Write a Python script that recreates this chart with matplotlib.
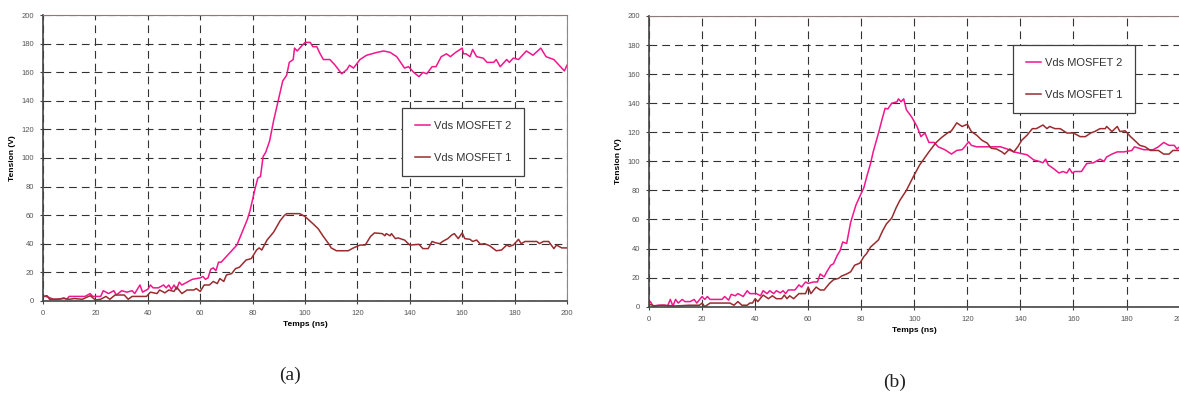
import numpy as np
import matplotlib
matplotlib.use("Agg")
import matplotlib.pyplot as plt

# ---- data (t in ns, v in V) ----
# panel (a)
a2_t = [0, 1, 2, 4, 6, 8, 9, 10, 15, 16,
        18, 19, 20, 22, 23, 25, 27, 28, 30, 32,
        34, 35, 37, 38, 40, 41, 42, 44, 46, 47,
        48, 49, 50, 51, 52, 53, 55, 57, 60, 61,
        62, 63, 64, 65, 66, 67, 68, 70, 72, 74,
        76, 78, 79, 80, 81, 82, 83, 84, 85, 86.5,
        88, 90, 91.5, 93, 94, 95.5, 96, 97, 98, 100,
        102, 103, 104.5, 105.5, 107, 109.5, 111.5, 114, 116, 117,
        118.5, 121, 123.5, 127.5, 130, 132.5, 135, 136.5, 138, 139.5,
        141.5, 143.5, 145, 146.5, 148.5, 150, 152, 154, 155.5, 157.5,
        160, 160.5, 161.5, 163, 164, 165.5, 168, 169.5, 172, 173,
        174.5, 177, 178, 179.5, 181.5, 184.5, 187, 190, 192, 195,
        197.5, 199, 200]
a2_v = [3, 3, 2.5, 1, 1, 2, 1, 3, 3, 3,
        5, 3, 3, 3, 7, 5, 7, 4, 7, 6,
        7, 5, 11, 6, 8, 11, 9, 9, 11, 9,
        11, 8, 11, 8, 13, 11, 13, 15, 16, 17,
        15, 16, 22, 23, 21, 27, 27, 31, 35, 39,
        48, 57, 63, 71, 79, 86, 87, 101, 104, 112,
        126, 142, 154, 158, 167, 169, 177, 175, 177, 181,
        181, 178, 178, 174, 169, 169, 165, 159, 162, 165,
        163, 169, 172, 174, 175, 174, 171, 167, 163, 164,
        160, 157, 160, 159, 164, 164, 171, 173, 171, 174,
        177, 173, 173, 171, 176, 171, 170, 167, 167, 169,
        164, 169, 167, 170, 169, 175, 172, 177, 171, 169,
        164, 161, 165]

a1_t = [0, 1.5, 2.5, 5, 8, 10, 12, 15, 18, 20,
        22, 24, 25.5, 27.5, 31, 32.5, 34, 39.5, 41, 43.5,
        44.5, 46.5, 48, 50, 51, 53, 55, 57.5, 58.5, 60,
        61.5, 63.5, 65, 66.5, 67.5, 69, 70, 72, 73.5, 75,
        77.5, 79.5, 81.5, 82.5, 83.5, 85.5, 88, 90.5, 92, 93,
        98, 100, 103, 105, 107, 109, 110, 112, 116.5, 118.5,
        121, 123, 125, 126.5, 129.5, 130.5, 131, 132.5, 133, 134.5,
        135.5, 138, 140, 143.5, 145, 147, 148.5, 150, 151.5, 152.5,
        154.5, 156, 157, 158.5, 160, 161, 163, 164, 165.5, 167,
        168.5, 170.5, 173, 175, 177, 178, 179.5, 181.5, 182.5, 184,
        188.5, 189.5, 191, 193, 195, 196, 198, 200]
a1_v = [3, 3.5, 1, 1, 1.5, 1, 1.5, 1, 3.5, 0.5,
        1, 3, 1, 4, 4, 1, 3, 3, 6, 5,
        7.5, 5.5, 7.5, 6.5, 9.5, 5, 7.5, 7.5, 8.5, 6.5,
        11, 11, 13.5, 12, 15.5, 13.5, 18, 19, 22.5, 23.5,
        28.5, 29.5, 35.5, 37, 35.5, 42.5, 48, 56, 59.5, 61,
        61, 59, 54, 50.5, 45, 40, 37, 35, 35, 37,
        39, 39, 45, 47.5, 47, 45.5, 47, 45.5, 47, 43.5,
        44, 42.5, 39, 39.5, 36.5, 36.5, 41.5, 40.5, 40, 41.5,
        43.5, 46, 47, 43.5, 47.5, 43.5, 43, 41.5, 42.5, 39.5,
        40, 38.5, 35, 35.5, 39, 38, 39, 43, 40, 41.5,
        41.5, 40, 41.5, 41.5, 36.5, 39, 37, 37]

# panel (b)
b2_t = [0, 0.5, 1.5, 3.5, 6, 7, 8, 9, 10, 11,
        12.5, 13.5, 15.5, 17, 18, 20, 21, 22, 23, 27.5,
        28.5, 30, 31, 32.5, 33.5, 35.5, 37, 38, 40.5, 42,
        43, 44.5, 45.5, 47, 48, 49.5, 50.5, 51.5, 52.5, 55,
        56.5, 57.5, 59, 60, 62, 63.5, 64.5, 66, 67, 68.5,
        69.5, 71, 72, 73, 74.5, 76, 76.5, 78, 79.5, 81,
        82, 83.5, 84.5, 86.5, 88, 89, 90, 91.5, 93.5, 94,
        95, 96, 97, 99, 101, 102.5, 104, 105.5, 107.5, 109,
        111.5, 114, 116, 118, 119, 120.5, 121.5, 123.5, 127.5, 132.5,
        135, 137.5, 140, 142.5, 145, 147, 148.5, 149.5, 150.5, 152.5,
        154.5, 156, 157.5, 158.5, 159.5, 160.5, 163, 165, 167.5, 170,
        171.5, 172.5, 174.5, 176.5, 179, 182, 183, 186.5, 190, 192,
        194, 196, 198, 199, 200]
b2_v = [2.5, 3.5, 0.5, 1, 1, 0.5, 5, 0.5, 5, 2.5,
        5, 3.5, 3.5, 5, 2.5, 7, 5, 7, 5, 5,
        7, 4.5, 8.5, 7.5, 9, 7, 11, 9, 9, 7.5,
        11, 9, 11, 9, 11, 9.5, 11, 9, 11.5, 11.5,
        15, 13.5, 17, 16, 17, 17, 22.5, 20.5, 24, 28.5,
        29.5, 35.5, 38.5, 44.5, 43.5, 58, 61, 70, 76, 82,
        89, 98.5, 106.5, 119.5, 130, 136.5, 136, 140, 141, 143,
        141, 143, 135.5, 130.5, 124, 117, 119.5, 113, 113, 110,
        108, 105, 107.5, 108, 110, 113.5, 111, 110, 110, 110,
        108.5, 106.5, 105.5, 104.5, 101, 100, 99, 101.5, 97.5, 95,
        92, 93, 92, 95, 92, 93, 93, 98.5, 99, 101.5,
        100, 103, 105, 106.5, 106.5, 107.5, 110, 108, 108, 110,
        113, 111, 111, 108.5, 110]

b1_t = [0, 0.5, 2, 5, 10, 15, 19, 20, 21, 23,
        30.5, 32, 33.5, 35, 37, 38, 39, 40, 41, 43,
        45, 46.5, 48, 50, 51, 52, 53, 54.5, 56.5, 59,
        60, 61, 63, 64.5, 66, 68, 69.5, 71.5, 72.5, 74.5,
        76, 77.5, 79.5, 81, 82, 83.5, 85, 86.5, 88, 89.5,
        91.5, 93, 94.5, 97, 99.5, 102, 105.5, 108, 110, 112.5,
        114, 116, 118, 120, 121.5, 123.5, 125.5, 127.5, 129, 131,
        133, 134, 136, 137.5, 139, 140.5, 142.5, 144.5, 146, 148.5,
        150, 151, 153, 155, 157.5, 160, 162.5, 164.5, 166.5, 168,
        170, 172, 172.5, 174.5, 176.5, 177.5, 179.5, 181.5, 183, 185,
        187, 189, 192, 194, 196, 197.5, 200]
b1_v = [1, 1.5, 0.5, 1, 0.5, 1, 1, 2.5, 0, 2.5,
        2.5, 1, 3.5, 1, 1, 2.5, 2.5, 5.5, 3.5, 8,
        5.5, 7.5, 5.5, 5.5, 8, 5.5, 7.5, 5.5, 9, 9,
        13.5, 9, 13.5, 11.5, 11.5, 16, 18.5, 19.5, 21, 22.5,
        24, 28.5, 30, 34.5, 36.5, 41, 43.5, 46, 52, 57,
        61, 67.5, 73, 80, 89, 97.5, 106.5, 112.5, 116, 119.5,
        121, 126.5, 124, 125.5, 120.5, 118, 114.5, 112.5, 109, 108.5,
        106.5, 105, 108.5, 106.5, 110, 114.5, 118, 122.5, 122.5, 125,
        122.5, 124, 122.5, 122.5, 119.5, 119.5, 117, 117, 119.5, 120.5,
        122.5, 122.5, 124, 120.5, 124, 120.5, 121, 117, 114.5, 111,
        110, 107.5, 107.5, 105, 105, 107.5, 107.5]

labels = ["Vds MOSFET 2", "Vds MOSFET 1"]
ticks = np.arange(0, 201, 20)

c_m2 = "#F0168C"
c_m1 = "#9A2B2E"

plt.rcParams['font.family'] = ['Liberation Sans', 'DejaVu Sans']

fig = plt.figure(figsize=(11.79, 3.94), dpi=100)
ax_a = fig.add_axes([0.0365, 0.2368, 0.4444, 0.7244])
ax_b = fig.add_axes([0.5505, 0.2216, 0.4500, 0.7378])


def style(ax):
    ax.set_xlim(0, 200)
    ax.set_ylim(0, 200)
    ax.set_xticks(ticks)
    ax.set_yticks(ticks)
    ax.grid(True, linestyle=(0, (7, 4.5)), color="#333333", lw=0.8)
    ax.set_axisbelow(True)
    ax.tick_params(labelsize=5.5, labelcolor="#555555", length=2.5,
                   width=0.8, color="#444444", pad=4)
    ax.spines["left"].set_color("#444444")
    ax.spines["bottom"].set_color("#444444")
    ax.spines["left"].set_linewidth(1.2)
    ax.spines["bottom"].set_linewidth(1.2)
    ax.spines["top"].set_color("#8a7a7a")
    ax.spines["right"].set_color("#8a8a8a")
    ax.set_xlabel("Temps (ns)", fontsize=6, fontweight="bold", labelpad=3)
    ax.set_ylabel("Tension (V)", fontsize=6, fontweight="bold", labelpad=4)


for ax, t2, v2, t1, v1, anchor in [
        (ax_a, a2_t, a2_v, a1_t, a1_v, (0.685, 0.675)),
        (ax_b, b2_t, b2_v, b1_t, b1_v, (0.686, 0.900))]:
    style(ax)
    ax.plot(t2, v2, color=c_m2, lw=1.1, label=labels[0])
    ax.plot(t1, v1, color=c_m1, lw=1.1, label=labels[1])
    leg = ax.legend(loc="upper left", bbox_to_anchor=anchor, fontsize=8,
                    frameon=True, fancybox=False, edgecolor="#404040",
                    framealpha=1, handlelength=1.4, handletextpad=0.3,
                    labelspacing=2.0, borderpad=1.15, borderaxespad=0)
    leg.get_frame().set_linewidth(0.9)
    for txt in leg.get_texts():
        txt.set_color("#333333")

fig.text(290 / 1179, 1 - 375 / 394, "(a)", family="Liberation Serif",
         fontsize=14, ha="center", va="center", color="#222222")
fig.text(895 / 1179, 1 - 382 / 394, "(b)", family="Liberation Serif",
         fontsize=14, ha="center", va="center", color="#222222")

fig.savefig("out.png", dpi=100)
